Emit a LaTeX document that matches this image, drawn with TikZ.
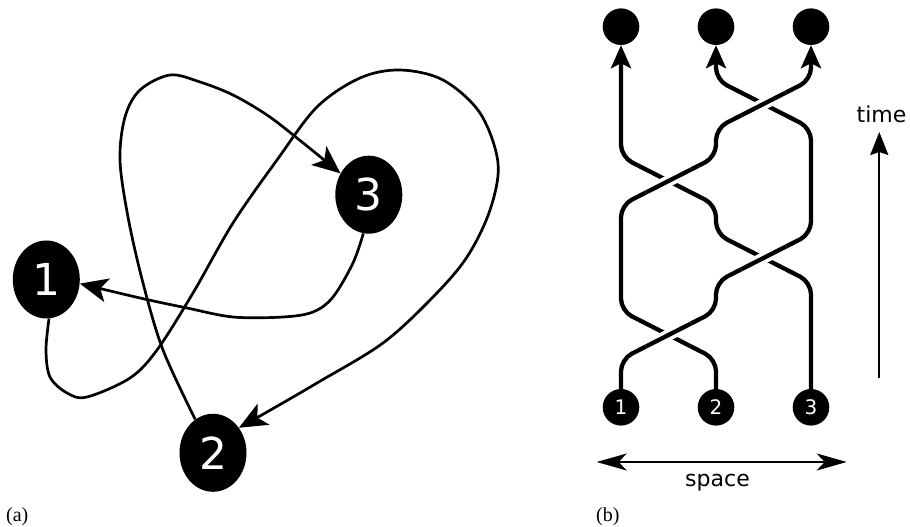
\documentclass[tikz,border=0pt]{standalone}
\usepackage{fontspec}
\setmainfont{DejaVu Sans}
\newfontfamily\capserif{Liberation Serif}
\usetikzlibrary{arrows.meta,shapes.geometric}
\begin{document}
\begin{tikzpicture}[x=1pt,y=1pt,
  bignode/.style={ellipse, fill=black, minimum width=67pt, minimum height=78pt, inner sep=0pt, text=white, font=\fontsize{44}{44}\selectfont},
  smallnode/.style={circle, fill=black, minimum size=36.6pt, inner sep=0pt, text=white, font=\fontsize{20}{20}\selectfont},
  topnode/.style={circle, fill=black, minimum size=36.6pt, inner sep=0pt},
  loopline/.style={line width=2.7pt, -{Stealth[length=28pt,width=24pt,inset=7pt]}},
  strand/.style={line width=4.3pt, rounded corners=12pt, -{Stealth[length=23pt,width=20pt,inset=5pt]}},
  overpass/.style={line width=4.3pt, preaction={draw=white, line width=11.5pt}},
  axisline/.style={line width=2pt},
  axislabel/.style={font=\fontsize{22}{22}\selectfont, inner sep=0pt},
  figcap/.style={font=\capserif\fontsize{20}{20}\selectfont, inner sep=0pt}
]
\useasboundingbox (0,0) rectangle (910,527);

% ---------------- (a) ----------------
\node[bignode] (n1) at (46.3,247.5) {1};
\node[bignode] (n3) at (368.8,332.3) {3};
\node[bignode] (n2) at (213,74.2) {2};

\draw[loopline] plot[smooth, tension=0.55] coordinates {(n2.118) (163,177) (143,244) (128,310) (120,367) (125,410) (140,437) (170,452) (200,445) (233,432) (267,412) (297,389) (n3.143)};

\draw[loopline] plot[smooth, tension=0.55] coordinates {(n3.262) (353,264) (333,230) (313,215) (283,210) (233,210) (187,219) (140,229) (n1.-7)};

\draw[loopline] plot[smooth, tension=0.55] coordinates {(n1.274) (46,177) (50,150) (67,134) (87,130) (130,149) (157,177) (193,234) (233,304) (277,367) (317,420) (360,449) (400,457) (443,447) (480,414) (498,364) (490,317) (467,270) (433,230) (383,184) (317,144) (267,115) (n2.44)};

\node[figcap, anchor=base west] (capa) at (6,5) {(a)};

% ---------------- (b) ----------------
\node[smallnode] (b1) at (621,119.7) {1};
\node[smallnode] (b2) at (716,119.7) {2};
\node[smallnode] (b3) at (811,119.7) {3};
\node[topnode] (t1) at (621,500.3) {};
\node[topnode] (t2) at (716,500.3) {};
\node[topnode] (t3) at (811,500.3) {};

\coordinate (c1) at (668.5,192);
\coordinate (c2) at (763.5,269);
\coordinate (c3) at (668.5,346);
\coordinate (c4) at (763.5,423);

% strands
\draw[strand] (b1.north) -- (621,167.8) -- (716,216.2) -- (716,244.8) -- (811,293.2) -- (811,398.8) -- (716,447.2) -- (t2.south);
\draw[strand] (b2.north) -- (716,167.8) -- (621,216.2) -- (621,321.8) -- (716,370.2) -- (716,398.8) -- (811,447.2) -- (t3.south);
\draw[strand] (b3.north) -- (811,244.8) -- (716,293.2) -- (716,321.8) -- (621,370.2) -- (t1.south);

% over-crossings
\draw[overpass] (c1) ++(-22.3,-11.35) -- ++(44.6,22.7);
\draw[overpass] (c2) ++(-22.3,-11.35) -- ++(44.6,22.7);
\draw[overpass] (c3) ++(-22.3,-11.35) -- ++(44.6,22.7);
\draw[overpass] (c4) ++(-22.3,-11.35) -- ++(44.6,22.7);

% time axis
\coordinate (tbot) at (879.3,149);
\coordinate (ttop) at (879.3,395);
\draw[axisline, -{Stealth[length=23pt,width=18pt,inset=3pt]}] (tbot) -- (ttop);
\node[axislabel, anchor=base] (timelab) at (881.5,404.3) {time};

% space axis
\coordinate (sleft) at (596.7,65);
\coordinate (sright) at (846.7,65);
\draw[axisline, {Stealth[length=30pt,width=17pt,inset=8pt]}-{Stealth[length=30pt,width=17pt,inset=8pt]}] (sleft) -- (sright);
\node[axislabel, anchor=base] (spacelab) at (717.5,40.3) {space};

\node[figcap, anchor=base west] (capb) at (596,5) {(b)};
\end{tikzpicture}
\end{document}
